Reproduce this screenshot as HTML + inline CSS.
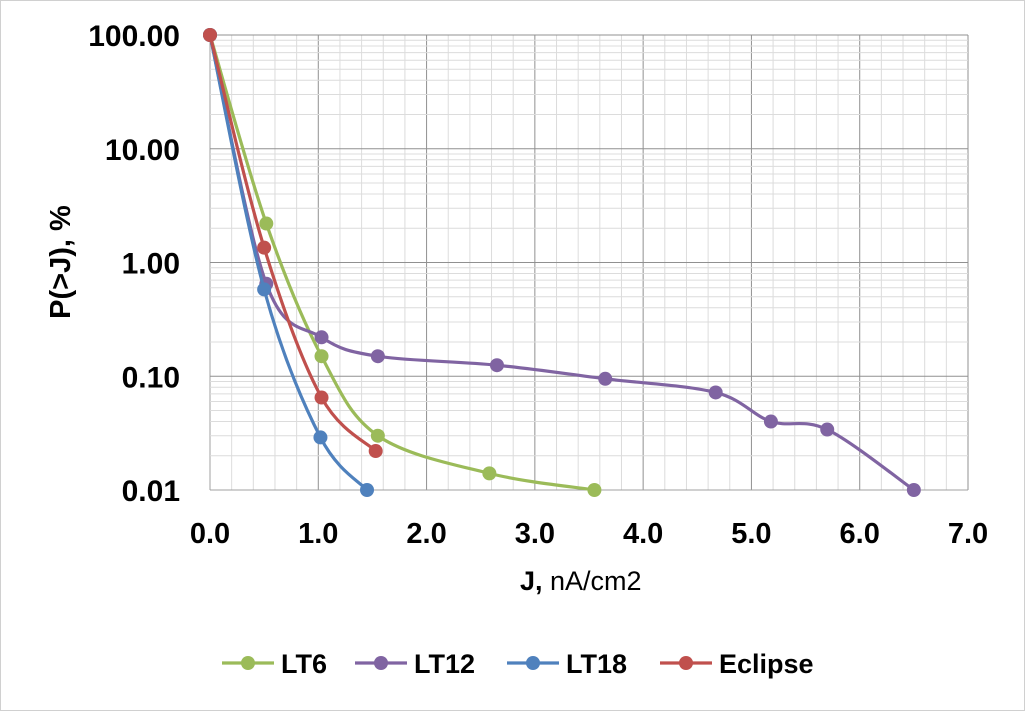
<!DOCTYPE html>
<html><head><meta charset="utf-8"><style>
body{margin:0;background:#fff}
svg{display:block;font-family:"Liberation Sans",sans-serif}
</style></head><body>
<svg id="c" width="1026" height="712" xmlns="http://www.w3.org/2000/svg">
<rect x="0.5" y="0.5" width="1024" height="710" fill="#fff" stroke="#d0d0d0"/>
<g id="grid"></g><g id="series"></g><g id="ticks"></g>
<text x="520" y="590" font-size="27" fill="#000"><tspan font-weight="bold">J,</tspan> nA/cm2</text>
<text transform="translate(70,262) rotate(-90)" text-anchor="middle" font-size="29" font-weight="bold">P(&gt;J), %</text>
<g id="legend"></g>
</svg>
<script>
const seriesNames=["LT6","LT12","LT18","Eclipse"];
const colors=["#9bbb59","#8064a2","#4f81bd","#c0504d"];
const lt6X=[0,0.52,1.03,1.55,2.58,3.55];
const lt6Y=[100,2.2,0.15,0.03,0.014,0.01];
const lt12X=[0,0.52,1.03,1.55,2.65,3.65,4.67,5.18,5.7,6.5];
const lt12Y=[100,0.65,0.22,0.15,0.125,0.095,0.072,0.04,0.034,0.01];
const lt18X=[0,0.5,1.02,1.45];
const lt18Y=[100,0.58,0.029,0.01];
const eclX=[0,0.5,1.03,1.53];
const eclY=[100,1.35,0.065,0.022];
const xTicks=["0.0","1.0","2.0","3.0","4.0","5.0","6.0","7.0"];
const yTicks=["0.01","0.10","1.00","10.00","100.00"];
const NS="http://www.w3.org/2000/svg";
const L=210,R=968,T=35,B=490;
const sx=v=>L+v*(R-L)/7;
const sy=v=>B-(Math.log10(v)+2)*(B-T)/4;
function mk(tag,at,parent){const e=document.createElementNS(NS,tag);for(const k in at)e.setAttribute(k,at[k]);parent.appendChild(e);return e;}
const grid=document.getElementById('grid');
for(let i=0;i<=35;i++){const x=sx(i/5);const major=i%5==0;
 const e=mk('line',{x1:x,x2:x,y1:T,y2:B,stroke:major?(i==0?'#a0a0a0':'#909090'):'#dcdcdc','stroke-width':1},grid);
 
 }
for(let d=-2;d<2;d++){for(let m=1;m<10;m++){const y=sy(m*Math.pow(10,d));
 const e=mk('line',{x1:L,x2:R,y1:y,y2:y,stroke:m==1?(d==-2?'#a0a0a0':'#909090'):'#dcdcdc','stroke-width':1},grid);
 
 }}
{const e=mk('line',{x1:L,x2:R,y1:T,y2:T,stroke:'#909090'},grid);}
const ticks=document.getElementById('ticks');
xTicks.forEach((t,i)=>{const e=mk('text',{x:sx(parseFloat(t)),y:543,'text-anchor':'middle','font-size':29,'font-weight':'bold'},ticks);e.textContent=t;
 });
yTicks.forEach(t=>{const e=mk('text',{x:180,y:sy(parseFloat(t))+11,'text-anchor':'end','font-size':30,'font-weight':'bold'},ticks);e.textContent=t;
 });
function pathOf(P){let d=`M${P[0][0]},${P[0][1]}`;for(let i=0;i<P.length-1;i++){const p0=P[Math.max(i-1,0)],p1=P[i],p2=P[i+1],p3=P[Math.min(i+2,P.length-1)];
 const c1=[p1[0]+(p2[0]-p0[0])/6,p1[1]+(p2[1]-p0[1])/6],c2=[p2[0]-(p3[0]-p1[0])/6,p2[1]-(p3[1]-p1[1])/6];
 d+=` C${c1[0]},${c1[1]} ${c2[0]},${c2[1]} ${p2[0]},${p2[1]}`;}return d;}
const sg=document.getElementById('series');
const data=[[lt6X,lt6Y],[lt12X,lt12Y],[lt18X,lt18Y],[eclX,eclY]];
data.forEach(([X,Y],s)=>{const g=mk('g',{},sg);
 const P=X.map((x,i)=>[sx(x),sy(Y[i])]);
 const p=mk('path',{d:pathOf(P),fill:'none',stroke:colors[s],'stroke-width':3.2},g);
 P.forEach(q=>{const c=mk('circle',{cx:q[0],cy:q[1],r:7,fill:colors[s]},g);});});
const lg=document.getElementById('legend');
const lx=[222,355,507,660];
seriesNames.forEach((n,i)=>{const g=mk('g',{},lg);
 mk('line',{x1:lx[i],x2:lx[i]+52,y1:663,y2:663,stroke:colors[i],'stroke-width':3.2},g);
 mk('circle',{cx:lx[i]+26,cy:663,r:7,fill:colors[i]},g);
 const t=mk('text',{x:lx[i]+59,y:673,'font-size':27,'font-weight':'bold'},g);t.textContent=n;});
</script>
</body></html>
